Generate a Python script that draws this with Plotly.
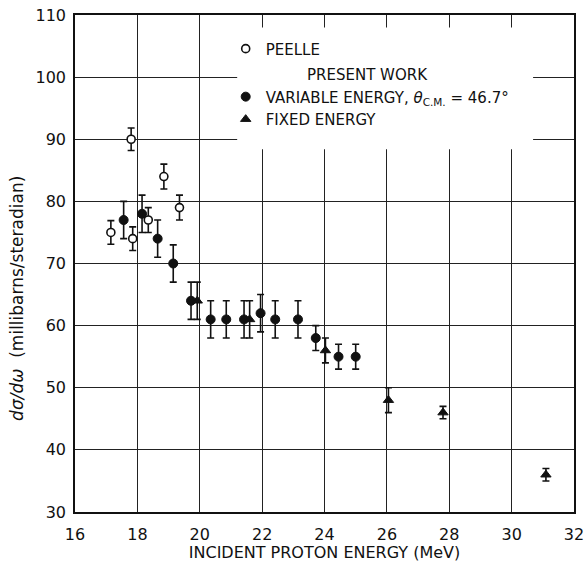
import plotly.graph_objects as go

# Peelle (open circles)
peelle_E = [17.15, 17.8, 17.85, 18.35, 18.85, 19.35]
peelle_V = [75, 90, 74, 77, 84, 79]
peelle_err = [1.9, 1.8, 1.9, 2.0, 2.0, 2.0]

# Present work, variable energy (filled circles)
var_E = [17.56, 18.15, 18.65, 19.15, 19.72, 20.35, 20.85, 21.42, 21.95, 22.42, 23.15, 23.72, 24.45, 25.0]
var_V = [77, 78, 74, 70, 64, 61, 61, 61, 62, 61, 61, 58, 55, 55]
var_err = [3, 3, 3, 3, 3, 3, 3, 3, 3, 3, 3, 2, 2, 2]

# Present work, fixed energy (filled triangles)
fix_E = [19.92, 21.6, 24.03, 26.05, 27.8, 31.1]
fix_V = [64, 61, 56, 48, 46, 36]
fix_err = [3, 3, 2, 2, 1, 1]

x_ticks = [16, 18, 20, 22, 24, 26, 28, 30, 32]
y_ticks = [30, 40, 50, 60, 70, 80, 90, 100, 110]

FONT = "DejaVu Sans"
ink = "#111111"

def ebar(err):
    return dict(type="data", array=err, visible=True, color=ink, thickness=1.6, width=3.5)

fig = go.Figure()
fig.add_trace(go.Scatter(
    x=peelle_E, y=peelle_V, mode="markers", name="PEELLE",
    legendgroup="a",
    marker=dict(symbol="circle", size=8, color="white", line=dict(color=ink, width=1.6)),
    error_y=ebar(peelle_err)))
fig.add_trace(go.Scatter(
    x=var_E, y=var_V, mode="markers",
    name="VARIABLE ENERGY, <i>θ</i><sub>C.M.</sub> = 46.7°",
    legendgroup="b", legendgrouptitle=dict(text="\u00a0" * 16 + "PRESENT WORK",
                                           font=dict(family=FONT, size=15, color=ink)),
    marker=dict(symbol="circle", size=9, color=ink, line=dict(color=ink, width=1)),
    error_y=ebar(var_err)))
fig.add_trace(go.Scatter(
    x=fix_E, y=fix_V, mode="markers", name="FIXED ENERGY",
    legendgroup="b",
    marker=dict(symbol="triangle-up", size=9, color=ink, line=dict(color=ink, width=1)),
    error_y=ebar(fix_err)))

# white box behind the legend, covering gridlines
fig.add_shape(type="rect", xref="paper", yref="paper",
              x0=0.325, x1=0.918, y0=0.73, y1=0.975,
              fillcolor="white", line=dict(width=0), layer="above")

fig.add_annotation(
    text="<i>dσ/dω</i>\u00a0\u00a0(millibarns/steradian)",
    xref="paper", yref="paper", x=-0.115, y=0.43, textangle=-90,
    showarrow=False, font=dict(family=FONT, size=17, color=ink),
    xanchor="center", yanchor="middle")

fig.update_layout(
    width=586, height=562,
    margin=dict(l=75, r=12, t=15, b=50, autoexpand=False),
    paper_bgcolor="white", plot_bgcolor="white",
    font=dict(family=FONT, size=15, color=ink),
    showlegend=True,
    legend=dict(x=0.302, y=0.965, xanchor="left", yanchor="top",
                bgcolor="rgba(0,0,0,0)", borderwidth=0,
                traceorder="grouped", tracegroupgap=3,
                font=dict(family=FONT, size=15, color=ink),
                itemsizing="trace"),
    xaxis=dict(range=[16, 32], tickvals=x_ticks, ticktext=[str(v) for v in x_ticks],
               showgrid=True, gridcolor="#222", gridwidth=1, automargin=False,
               showline=True, linecolor=ink, linewidth=1.5, mirror=True,
               ticks="", zeroline=False, ticklabelstandoff=7, ticklabeloverflow="allow",
               tickfont=dict(family=FONT, size=16, color=ink),
               title=dict(text="INCIDENT PROTON ENERGY (MeV)", standoff=0,
                          font=dict(family=FONT, size=16, color=ink))),
    yaxis=dict(range=[30, 110], tickvals=y_ticks, ticktext=[str(v) for v in y_ticks],
               showgrid=True, gridcolor="#222", gridwidth=1, automargin=False,
               showline=True, linecolor=ink, linewidth=1.5, mirror=True,
               ticks="", zeroline=False, ticklabelstandoff=4, ticklabeloverflow="allow",
               tickfont=dict(family=FONT, size=16, color=ink)),
)

fig.write_html("out.html", config={"displayModeBar": False},
               post_script="document.body.style.margin='0';document.body.style.overflow='hidden';")
